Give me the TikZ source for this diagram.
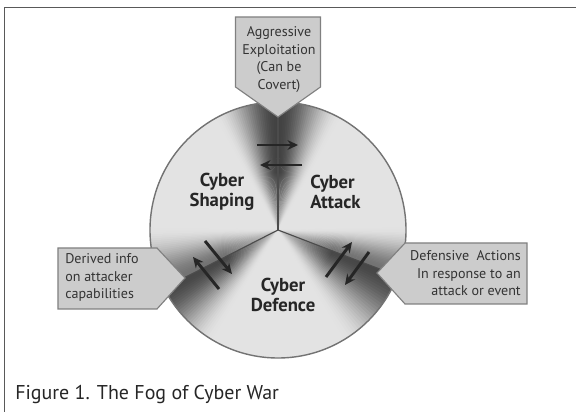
\documentclass[tikz,border=0pt]{standalone}
\usepackage{fontspec}
\setmainfont{PT Sans}
\usetikzlibrary{arrows.meta, fadings}
\tikzfading[name=hubfade, inner color=transparent!0, outer color=transparent!100]
\tikzstyle{frame} = [draw=black!65, line width=1.1pt]
\tikzstyle{rim} = [draw=black!55, line width=1pt]
\tikzstyle{divider} = [draw=black!70, line width=0.8pt]
\tikzstyle{calloutbox} = [fill=black!20, draw=black!50, line width=0.8pt, line join=miter]
\tikzstyle{calltext} = [text=black!80, inner sep=0pt, font=\fontsize{10}{12.4}\selectfont]
\tikzstyle{sectorlabel} = [text=black!85, inner sep=0pt, font=\fontsize{13.3}{13.8}\selectfont\bfseries]
\tikzstyle{pairarrow} = [line width=2.1pt, -{Stealth[length=7.5pt, width=7pt]}, draw=black!85]
\newcommand{\fogR}{128}
% conic fade: start angle, end angle, darkness at start, darkness at end
\newcommand{\fogband}[4]{%
  \foreach \i in {0,...,29}{
    \pgfmathsetmacro{\a}{#1+(#2-#1)*\i/30}
    \pgfmathsetmacro{\b}{#1+(#2-#1)*(\i+1.4)/30}
    \pgfmathsetmacro{\t}{\i/29}
    \pgfmathsetmacro{\d}{#4+(#3-#4)*(1-(3*\t*\t-2*\t*\t*\t))}
    \fill[black!\d] (0,0) -- (\a:\fogR) arc[start angle=\a, end angle=\b, radius=\fogR] -- cycle;
  }}

\begin{document}
\begin{tikzpicture}[x=0.025cm, y=0.025cm]
    \useasboundingbox (-278,-182) rectangle (298,230);
    \draw [frame] (298,222.5) -- (-273.5,222.5) -- (-273.5,-182);

    % the three sectors
    \fill[black!11] (0,0) circle [radius=\fogR];
    \fogband{90}{120}{74}{11}
    \fogband{90}{60}{74}{11}
    \fogband{207}{178}{55}{11}
    \fogband{-21}{2}{55}{11}
    \fogband{207}{240}{72}{11}
    \fogband{-21}{-60}{72}{11}
    \fill[black!11, path fading=hubfade, fill opacity=0.8] (0,0) circle [radius=58];
    \draw [rim] (0,0) circle [radius=\fogR];
    \coordinate (hub) at (0,0);
    \draw [divider] (hub) -- (90:\fogR);
    \draw [divider] (hub) -- (207:\fogR);
    \draw [divider] (hub) -- (-21:\fogR);

    \node (shaping) [sectorlabel, align=center] at (-56,38) {Cyber\\Shaping};
    \node (attack) [sectorlabel, align=left, anchor=west] at (32,38) {Cyber\\Attack};
    \node (defence) [sectorlabel, align=center] at (5,-65) {Cyber\\Defence};

    % callouts
    \draw [calloutbox] (-42.5,213) -- (42.5,213) -- (42.5,143) -- (0,113) -- (-42.5,143) -- cycle;
    \draw [calloutbox] (-220,-18) -- (-121,-18) -- (-93,-48) -- (-121,-79) -- (-220,-79) -- cycle;
    \draw [calloutbox] (249,-13) -- (127,-13) -- (99,-43) -- (127,-74) -- (249,-74) -- cycle;
    \node (exploit) [calltext, align=center] at (1,170.5) {Aggressive\\Exploitation\\(Can be\\Covert)};
    \node (derived) [calltext, align=left, anchor=west] at (-213,-47.5) {Derived info\\on attacker\\capabilities};
    \node (actions) [calltext, align=right, anchor=east] at (243,-43.5) {Defensive\ \ Actions\\In response to an\\attack or event};

    % arrow pairs
    \coordinate (sa1) at (-21,85);  \coordinate (sa2) at (20,85);
    \coordinate (as1) at (24,65);   \coordinate (as2) at (-18,65);
    \coordinate (sd1) at (-73,-11); \coordinate (sd2) at (-46,-44);
    \coordinate (ds1) at (-59,-59); \coordinate (ds2) at (-85,-27);
    \coordinate (da1) at (48,-47);  \coordinate (da2) at (74,-12);
    \coordinate (ad1) at (91,-22);  \coordinate (ad2) at (67,-55);
    \draw [pairarrow] (sa1) -- (sa2);
    \draw [pairarrow] (as1) -- (as2);
    \draw [pairarrow] (sd1) -- (sd2);
    \draw [pairarrow] (ds1) -- (ds2);
    \draw [pairarrow] (da1) -- (da2);
    \draw [pairarrow] (ad1) -- (ad2);

    \node (caption) [anchor=base west, inner sep=0pt, text=black!85, font=\fontsize{14.2}{16}\selectfont] at (-263,-169) {Figure 1. The Fog of Cyber War};

  \end{tikzpicture}
\end{document}
